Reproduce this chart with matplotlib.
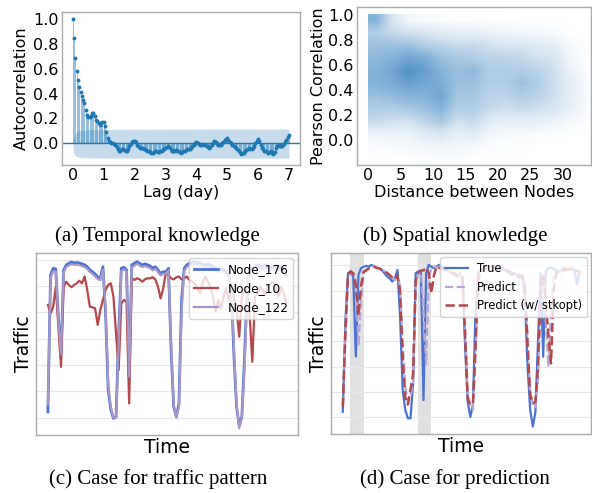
import numpy as np
import matplotlib
matplotlib.use('Agg')
import matplotlib.pyplot as plt
from matplotlib.colors import LinearSegmentedColormap

# (a) autocorrelation, one value per hour of lag (0 .. 7 days)
acf = [1.0, 0.85, 0.69, 0.58, 0.51, 0.45, 0.41, 0.38, 0.35, 0.32, 0.27, 0.23,
       0.21, 0.21, 0.22, 0.24, 0.24, 0.22, 0.19, 0.18, 0.16, 0.15, 0.16, 0.17,
       0.17, 0.135, 0.09, 0.045, 0.02, 0.008, 0.004, 0.0, -0.003, -0.01, -0.03, -0.05,
       -0.06, -0.06, -0.05, -0.045, -0.055, -0.065, -0.06, -0.045, -0.025, -0.005, 0.01, 0.02,
       0.02, 0.01, -0.01, -0.025, -0.035, -0.04, -0.04, -0.045, -0.05, -0.055, -0.06, -0.065,
       -0.07, -0.075, -0.08, -0.07, -0.06, -0.065, -0.07, -0.07, -0.065, -0.06, -0.05, -0.045,
       -0.04, -0.03, -0.02, -0.03, -0.05, -0.06, -0.065, -0.06, -0.055, -0.06, -0.065, -0.07,
       -0.075, -0.07, -0.065, -0.06, -0.055, -0.05, -0.05, -0.045, -0.035, -0.025, -0.01, 0.0,
       0.01, 0.005, -0.005, -0.01, -0.01, -0.005, -0.01, -0.015, -0.02, -0.03, -0.04, -0.03,
       -0.015, 0.0, 0.02, 0.01, -0.005, -0.01, -0.015, -0.01, 0.0, 0.01, 0.025, 0.035,
       0.045, 0.03, 0.01, 0.0, -0.01, -0.02, -0.03, -0.04, -0.05, -0.06, -0.07, -0.085,
       -0.08, -0.075, -0.065, -0.055, -0.045, -0.04, -0.045, -0.05, -0.04, -0.02, 0.0, 0.02,
       0.035, 0.02, -0.01, -0.04, -0.05, -0.06, -0.065, -0.07, -0.075, -0.07, -0.065, -0.075,
       -0.085, -0.07, -0.04, -0.02, -0.015, -0.02, -0.025, -0.02, -0.005, 0.01, 0.03, 0.05,
       0.07]
band_lag = [0, 0.01, 0.02, 0.06, 0.13, 0.24, 0.5, 1.0, 7.0]
band_upper = [0, 0.01, 0.027, 0.067, 0.094, 0.105, 0.11, 0.112, 0.115]
band_lower = [0, -0.03, -0.067, -0.094, -0.107, -0.115, -0.118, -0.12, -0.12]

# (b) how densely node pairs fall in each (distance, correlation) cell
# columns: distance 0-2.5, 2.5-5, ... 32.5-35 ; rows: corr 0.9-1.0 down to -0.2--0.1
pair_density = [
    [7, 3, 1, 0.5, 0.3, 0.2, 0.2, 0.1, 0, 0, 0, 0, 0, 0],
    [5, 4, 3.5, 3, 2.5, 2, 2, 1.5, 1.2, 1, 0.8, 0.5, 0.1, 0],
    [6, 6, 6, 5, 4.5, 4, 4, 3.5, 3, 3, 2.5, 2, 0.6, 0],
    [6.5, 7, 8, 7.5, 6, 5.5, 5, 4.5, 4.5, 4, 3.5, 3, 1, 0.1],
    [7, 8, 9.5, 8.5, 7, 6, 6.5, 5, 5, 5, 4.5, 3.5, 1.5, 0.3],
    [7, 7.5, 8.5, 8, 7.5, 6, 6, 5, 5, 6, 5, 3.5, 2, 0.5],
    [6, 6.5, 7, 7, 8, 5.5, 5.5, 4.5, 4.5, 5, 4.5, 3.5, 2, 0.6],
    [5, 5, 5.5, 6, 7, 5, 5, 4, 3.5, 4, 3.5, 3, 1.8, 0.5],
    [4, 3.5, 3.5, 4.5, 5.5, 3.5, 4, 2.5, 2, 2, 2, 1.5, 0.8, 0.3],
    [1.5, 1.5, 1.5, 2.5, 3, 2, 2.5, 1, 0.6, 0.5, 0.5, 0.3, 0, 0],
    [0.3, 0.5, 0.8, 1, 1.2, 1, 0.8, 0.3, 0.1, 0.1, 0, 0, 0, 0],
    [0, 0, 0.1, 0.2, 0.3, 0.4, 0.1, 0, 0, 0, 0, 0, 0, 0],
]

# (c) hourly traffic of three nodes
node_176 = [122, 642, 667, 664, 480, 338, 660, 680, 686, 691, 687, 689, 687, 684, 680, 673,
            661, 654, 645, 634, 630, 673, 497, 205, 129, 97, 103, 421, 667, 671, 661, 255,
            680, 686, 692, 686, 680, 684, 680, 676, 667, 673, 661, 648, 654, 654, 667, 357,
            141, 103, 154, 547, 667, 680, 686, 689, 692, 689, 686, 684, 680, 684, 680, 673,
            667, 661, 667, 661, 654, 642, 585, 331, 141, 70, 103, 319, 585, 661, 667, 673,
            680, 676, 673, 680, 673, 667, 673, 676, 667, 673, 661, 642]
node_10 = [528, 496, 521, 597, 445, 293, 597, 616, 604, 595, 604, 610, 620, 610, 636, 585,
           521, 519, 515, 452, 509, 547, 585, 604, 610, 559, 420, 281, 534, 547, 540, 154,
           629, 623, 629, 625, 616, 625, 629, 629, 633, 625, 597, 553, 591, 651, 642, 629,
           625, 633, 636, 625, 629, 636, 623, 616, 610, 591, 572, 610, 636, 616, 597, 559,
           502, 547, 515, 559, 591, 547, 585, 559, 509, 407, 559, 585, 572, 483, 312, 559,
           572, 597, 585, 566, 597, 610, 616, 585, 559, 597, 572, 534]
node_122 = [150, 630, 655, 655, 470, 340, 650, 672, 678, 683, 680, 681, 679, 676, 672, 665,
            653, 646, 637, 626, 622, 662, 520, 230, 140, 100, 100, 380, 655, 663, 654, 255,
            670, 678, 684, 678, 672, 676, 672, 668, 659, 665, 653, 640, 646, 646, 660, 380,
            150, 100, 140, 500, 658, 672, 678, 681, 684, 681, 678, 676, 672, 676, 672, 665,
            659, 653, 659, 653, 646, 636, 600, 360, 150, 60, 100, 280, 560, 653, 659, 665,
            672, 668, 665, 672, 665, 659, 665, 668, 659, 665, 653, 636]

# (d) true traffic against the two predictions
true_d = [122, 480, 669, 676, 656, 340, 662, 689, 695, 698, 695, 702, 695, 689, 689, 682,
          669, 656, 649, 636, 649, 682, 498, 208, 129, 96, 96, 234, 669, 676, 676, 168,
          669, 702, 695, 689, 695, 702, 695, 689, 682, 676, 669, 662, 656, 669, 640, 380,
          160, 102, 150, 520, 669, 682, 689, 695, 698, 695, 689, 686, 682, 689, 682, 676,
          669, 662, 669, 656, 650, 662, 560, 300, 130, 63, 120, 400, 670, 339, 675, 690,
          690, 685, 680, 676, 682, 689, 686, 682, 689, 682, 625, 675]
pred_d = [150, 420, 655, 672, 669, 640, 380, 560, 670, 685, 690, 695, 698, 692, 688, 684,
          678, 668, 660, 650, 642, 655, 620, 400, 220, 160, 180, 240, 620, 670, 678, 520,
          310, 640, 690, 695, 692, 695, 690, 685, 680, 675, 672, 665, 660, 662, 650, 450,
          200, 140, 130, 350, 640, 670, 680, 690, 695, 698, 692, 688, 685, 684, 686, 680,
          674, 668, 665, 664, 658, 655, 630, 420, 200, 145, 140, 250, 560, 660, 480, 300,
          520, 660, 675, 678, 675, 680, 685, 684, 680, 684, 678, 670]
stk_d = [142, 440, 665, 676, 669, 620, 500, 620, 675, 680, 688, 690, 695, 690, 688, 682,
         678, 670, 662, 652, 645, 660, 600, 330, 180, 150, 210, 270, 640, 672, 680, 680,
         690, 670, 590, 660, 695, 690, 688, 684, 680, 678, 672, 668, 660, 664, 655, 420,
         170, 150, 155, 380, 650, 675, 682, 690, 695, 696, 693, 690, 686, 685, 686, 681,
         675, 670, 666, 664, 660, 656, 620, 380, 190, 155, 160, 300, 600, 665, 560, 420,
         313, 600, 670, 676, 678, 680, 684, 686, 682, 680, 678, 672]
shade_spans = [(2.8, 8.1), (28.7, 34.0)]

blue = '#4a72d4'
red = '#b5484a'
purple = '#a897c6'
spine_grey = '#aaaaaa'

plt.rcParams['font.family'] = ['DejaVu Sans']
fig = plt.figure(figsize=(5.92, 4.93), dpi=100)


def style_box(ax):
    for s in ax.spines.values():
        s.set_color(spine_grey)
        s.set_linewidth(1.0)


# ---------- (a) ----------
ax = fig.add_axes([0.1047, 0.6653, 0.402, 0.3103])
lags = np.arange(len(acf)) / 24.0
ax.fill_between(band_lag, band_lower, band_upper, color='C0', alpha=0.25, lw=0)
ax.axhline(0, color='C0', lw=1)
ax.vlines(lags, 0, acf, color='C0', lw=0.6, alpha=0.55)
ax.plot(lags, acf, 'o', color='C0', markersize=1.8)
ax.set_xlim(-0.35, 7.36)
ax.set_ylim(-0.175, 1.056)
ax.set_xticks(range(8))
ax.set_yticks([0.0, 0.2, 0.4, 0.6, 0.8, 1.0])
ax.tick_params(length=0, labelsize=11.5, pad=2.5)
ax.set_xlabel('Lag (day)', fontsize=11.5, labelpad=1)
ax.set_ylabel('Autocorrelation', fontsize=11.5, labelpad=3)
style_box(ax)

# ---------- (b) ----------
ax = fig.add_axes([0.6036, 0.6653, 0.3943, 0.3205])
cloud = LinearSegmentedColormap.from_list('cloud', ['#ffffff', '#d3e3f1', '#8db8db', '#4a8cc2'])
ax.imshow(pair_density, extent=[0, 35, -0.2, 1.0], aspect='auto', cmap=cloud,
          vmin=0, vmax=10, interpolation='bilinear', origin='upper')
ax.set_xlim(-1.7, 34.3)
ax.set_ylim(-0.2, 1.064)
ax.set_xticks([0, 5, 10, 15, 20, 25, 30])
ax.set_yticks([0.0, 0.2, 0.4, 0.6, 0.8, 1.0])
ax.tick_params(length=0, labelsize=11.5, pad=2.5)
ax.set_xlabel('Distance between Nodes', fontsize=11.5, labelpad=1)
ax.set_ylabel('Pearson Correlation', fontsize=11.5, labelpad=2)
style_box(ax)

# ---------- (c) ----------
ax = fig.add_axes([0.0608, 0.1176, 0.4431, 0.3686])
t = np.arange(len(node_176))
ax.plot(t, node_176, color=blue, lw=2.0, label='Node_176')
ax.plot(t, node_10, color=red, lw=1.6, label='Node_10')
ax.plot(t, node_122, color=purple, lw=1.6, label='Node_122')
ax.set_ylim(34, 724)
ax.set_yticks([100, 200, 300, 400, 500, 600, 700])
ax.set_yticklabels([])
ax.set_xticks([])
ax.tick_params(length=0, pad=0)
ax.grid(axis='y', color='#e6e6e6', lw=0.8)
ax.set_axisbelow(True)
ax.set_xlabel('Time', fontsize=13.5, labelpad=2)
ax.set_ylabel('Traffic', fontsize=13.5, labelpad=2)
ax.legend(loc='upper right', fontsize=8.7, framealpha=0.8, borderaxespad=0.4)
style_box(ax)

# ---------- (d) ----------
ax = fig.add_axes([0.5591, 0.1197, 0.44, 0.3677])
t = np.arange(len(true_d))
for a, b in shade_spans:
    ax.axvspan(a, b, color='#d9d9d9', alpha=0.8, lw=0, zorder=0)
ax.plot(t, true_d, color=blue, lw=1.6, label='True')
ax.plot(t, pred_d, color='#b8a7d2', lw=1.6, ls='--', label='Predict')
ax.plot(t, stk_d, color=red, lw=1.8, ls='--', label='Predict (w/ stkopt)')
ax.set_ylim(34, 750)
ax.set_yticks([100, 200, 300, 400, 500, 600, 700])
ax.set_yticklabels([])
ax.set_xticks([])
ax.tick_params(length=0, pad=0)
ax.grid(axis='y', color='#e6e6e6', lw=0.8)
ax.set_axisbelow(True)
ax.set_xlabel('Time', fontsize=13.5, labelpad=2)
ax.set_ylabel('Traffic', fontsize=13.5, labelpad=2)
ax.legend(loc='upper right', fontsize=8.3, framealpha=0.8, borderaxespad=0.4)
style_box(ax)

# captions
cap = dict(ha='center', va='center', fontsize=15, family='Liberation Serif')
fig.text(157 / 592, 1 - 236 / 493, '(a) Temporal knowledge', **cap)
fig.text(455 / 592, 1 - 236 / 493, '(b) Spatial knowledge', **cap)
fig.text(158 / 592, 1 - 479 / 493, '(c) Case for traffic pattern', **cap)
fig.text(455 / 592, 1 - 479 / 493, '(d) Case for prediction', **cap)

fig.savefig('out.png', dpi=100)
